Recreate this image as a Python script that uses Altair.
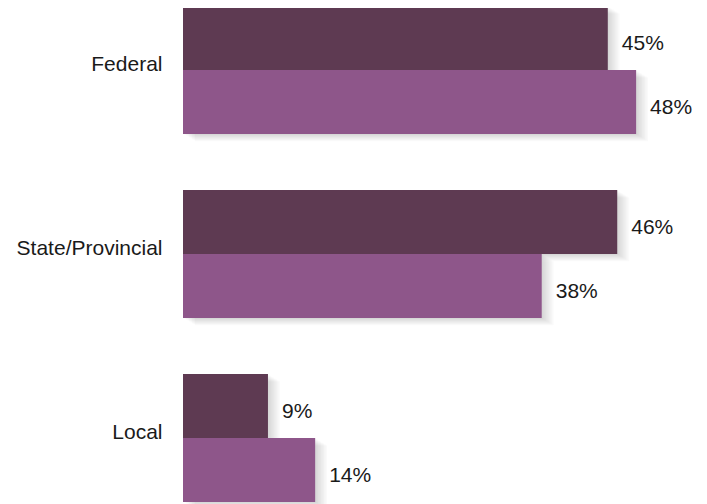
import altair as alt
import pandas as pd

categories = ["Federal", "State/Provincial", "Local"]
series = ["Series A", "Series B"]
values_a = [45, 46, 9]
values_b = [48, 38, 14]
colors = ["#5e3a52", "#8e568a"]

rows = []
for i, c in enumerate(categories):
    rows.append({"category": c, "series": series[0], "value": values_a[i]})
    rows.append({"category": c, "series": series[1], "value": values_b[i]})
df = pd.DataFrame(rows)
df["label"] = df["value"].astype(str) + "%"

FONT = "Liberation Sans"
BAND = 128

y_enc = alt.Y("category:N", sort=categories,
              scale=alt.Scale(paddingInner=0.304, paddingOuter=0, range=[-2, 494]),
              axis=alt.Axis(title=None, ticks=False, domain=False, labelFont=FONT,
                            labelFontSize=21, labelColor="#1a1a1a", labelPadding=21,
                            labelOffset=-5))
x_enc = alt.X("value:Q", scale=alt.Scale(domain=[0, 50]), axis=None)


def yoff(d=0):
    return alt.YOffset("series:N", sort=series,
                       scale=alt.Scale(type="band", domain=series, range=[d, BAND + d],
                                       paddingInner=0, paddingOuter=0))


layers = []
for k in [2, 4, 6, 8, 10, 12, 14, 16]:
    layers.append(
        alt.Chart(df).mark_bar(color="#000000", opacity=0.018, xOffset=k * 0.75)
        .encode(y=y_enc, x=x_enc, yOffset=yoff(k * 0.45))
    )

bars = alt.Chart(df).mark_bar().encode(
    y=y_enc, x=x_enc, yOffset=yoff(0),
    color=alt.Color("series:N", sort=series, scale=alt.Scale(domain=series, range=colors), legend=None)
)
text = alt.Chart(df).mark_text(align="left", baseline="middle", dx=14, dy=6, font=FONT,
                               fontSize=21, color="#1a1a1a").encode(
    y=y_enc, x=x_enc,
    yOffset=alt.YOffset("series:N", sort=series,
                        scale=alt.Scale(type="point", domain=series, range=[BAND / 4, BAND * 3 / 4], padding=0)),
    text="label:N")

chart = alt.layer(*layers, bars, text).resolve_scale(yOffset="independent").properties(
    width=472, height=496,
    autosize=alt.AutoSizeParams(type="none"),
    padding={"left": 175, "top": 0, "right": 44, "bottom": 0},
).configure_view(stroke=None)

chart.save("out.html", embed_options={"renderer": "svg", "actions": False})
